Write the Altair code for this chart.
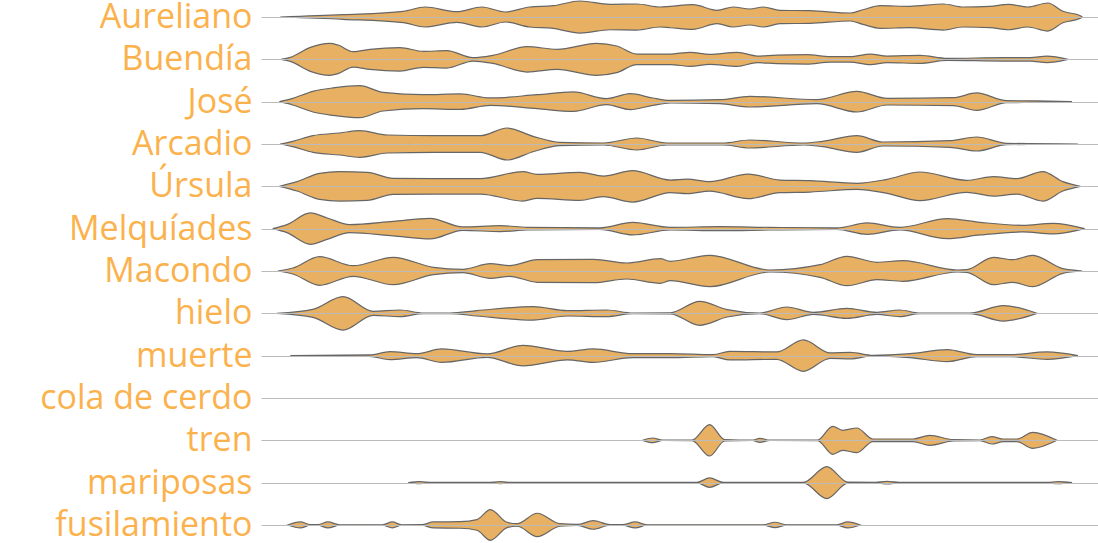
import altair as alt
import pandas as pd

# Row labels (top to bottom)
words = ["Aureliano", "Buendía", "José", "Arcadio", "Úrsula", "Melquíades",
         "Macondo", "hielo", "muerte", "cola de cerdo", "tren", "mariposas",
         "fusilamiento"]

# Position in the novel (% of text) and density (violin half-width) per word
aureliano_pos = [2.3, 9.8, 17.0, 19.6, 23.4, 26.4, 29.2, 32.1, 34.9, 38.1, 41.7, 44.9, 47.7, 48.9,
                 51.6, 54.5, 56.4, 58.4, 60.0, 62.0, 65.6, 70.4, 71.9, 74.0, 77.5, 81.5, 83.9,
                 87.1, 89.3, 91.6, 94.0, 95.8, 97.9, 98.1]
aureliano_den = [0, 2.3, 5.7, 10, 5.3, 10, 5, 10, 11.3, 16, 12.7, 13, 10, 10.7,
                 12.3, 6.7, 10, 8, 10, 6.7, 6.3, 4, 7.3, 11.3, 10.7, 13, 10,
                 10.7, 12.7, 10, 14, 5.7, 1.3, 0]

buendia_pos = [2.4, 3.5, 5.9, 8.2, 9.2, 11.0, 13.0, 16.6, 19.4, 22.2, 25.3, 27.7, 31.8, 35.4,
               40.1, 42.5, 44.9, 48.9, 51.3, 53.6, 56.9, 59.3, 61.6, 65.2, 68.0, 70.4, 72.8,
               74.8, 78.7, 82.0, 88.7, 91.9, 93.9, 96.4]
buendia_den = [0, 2, 12, 16, 14.3, 7.7, 10, 11.7, 8, 8.7, 1.7, 4, 12.7, 10,
               16, 13.3, 5.3, 5.3, 7, 5, 7, 3.3, 4.3, 4.7, 2.7, 2.7, 5.3,
               3.3, 4, 1, 1.7, 1.7, 3.3, 0]

jose_pos = [2.2, 3.8, 6.2, 8.6, 11.8, 14.6, 19.4, 23.8, 27.4, 33.0, 37.3, 41.3, 44.1, 46.8,
            48.9, 54.8, 58.4, 66.4, 71.2, 74.8, 82.7, 85.5, 89.1, 92.7, 96.9]
jose_den = [0, 3.3, 10.3, 13.7, 16, 9.3, 7, 7.7, 3.7, 7, 9.7, 3, 8, 3.7,
            1.3, 2, 5.3, 2, 10.3, 3.3, 4, 8.7, 1, 0.7, 0]

arcadio_pos = [2.3, 3.8, 6.2, 9.4, 11.8, 15.1, 20.6, 26.2, 29.4, 32.5, 35.7, 40.9, 44.9, 48.5,
               55.2, 58.4, 64.8, 67.1, 71.2, 74.3, 82.3, 85.5, 89.1, 97.6]
arcadio_den = [0, 2.7, 8.3, 11, 13.3, 9, 8.3, 8.3, 16, 7.7, 1.7, 1, 6, 1,
               1, 4, 1, 2.7, 8.3, 2, 3.3, 7, 0.7, 0]

ursula_pos = [2.2, 4.3, 7.0, 9.4, 12.7, 15.8, 20.6, 26.2, 31.3, 33.0, 38.1, 40.9, 44.4, 48.9,
              50.9, 53.6, 58.2, 62.0, 65.6, 71.2, 74.8, 78.7, 84.3, 87.5, 90.3, 93.4, 95.8, 97.9]
ursula_den = [0, 4.7, 13, 14.7, 14, 8, 7.7, 7.7, 14.7, 12, 14, 10.3, 15.7, 6.3,
              7.3, 4.7, 12.3, 6.3, 5.7, 3, 7, 14.3, 6, 9.7, 7.7, 14.7, 4.7, 0]

melquiades_pos = [1.4, 3.1, 5.9, 7.9, 10.6, 15.8, 20.2, 24.1, 28.6, 31.8, 40.5, 44.4, 48.9,
                  54.8, 60.8, 68.8, 72.4, 76.3, 82.0, 85.9, 91.0, 94.6, 98.4]
melquiades_den = [0, 4, 15.7, 10.7, 4, 7.3, 10.3, 1.7, 3, 1.3, 0.7, 6.3, 1.3,
                  2, 1.3, 0.7, 5.7, 1.3, 10, 6.3, 3.3, 5.3, 0]

macondo_pos = [2.0, 3.8, 7.0, 11.0, 15.8, 20.6, 24.1, 27.4, 29.7, 33.0, 39.7, 43.7, 47.7, 48.9,
               53.6, 60.8, 66.8, 70.0, 73.6, 76.7, 83.2, 84.3, 87.5, 89.8, 92.2, 95.8, 98.1]
macondo_den = [0, 3, 14.3, 5.3, 13.7, 3.7, 1.7, 7.3, 5.3, 11.3, 11.7, 8, 12.3, 9.7,
               15.7, 1, 6.3, 14.7, 8.7, 10.3, 1, 1.3, 13.7, 11.3, 15.7, 2.3, 0]

hielo_pos = [1.9, 6.2, 9.8, 13.4, 16.6, 19.4, 22.6, 25.8, 32.5, 36.6, 41.3, 44.4, 48.9,
             52.4, 55.7, 59.6, 62.8, 66.0, 70.0, 73.6, 76.3, 78.7, 84.7, 88.7, 92.7]
hielo_den = [0, 4, 16.7, 2, 3.3, 0.3, 0.3, 2.7, 6.7, 2.7, 3.3, 0.3, 0.5,
             12, 3.7, 0.3, 6.3, 1, 5, 1, 3.3, 0.3, 0.3, 7.7, 0]

muerte_pos = [3.5, 13.0, 15.4, 18.6, 21.6, 27.0, 31.3, 36.6, 39.7, 44.4, 48.9, 54.0, 56.0,
              61.6, 64.8, 68.0, 70.4, 73.1, 77.5, 82.0, 85.5, 89.5, 93.9, 97.6]
muerte_den = [0, 0.7, 4, 2, 6.7, 1.7, 10.3, 4.3, 6.7, 2, 2, 1, 4.3,
              3.7, 15.7, 2.7, 3.3, 0.3, 2, 6, 1, 1, 3.7, 0]

cola_pos = []
cola_den = []

tren_pos = [45.6, 46.8, 48.0, 51.5, 53.6, 55.4, 58.7, 59.6, 60.8, 66.5, 68.3, 69.5, 71.2,
            73.1, 76.3, 77.9, 79.9, 82.7, 85.9, 87.3, 88.7, 90.3, 92.2, 95.1]
tren_den = [0, 2.3, 0.2, 0.3, 15.7, 0.7, 0.2, 2, 0.2, 0.3, 14, 10, 12.3,
            1.3, 1.3, 1.3, 5, 0.7, 0.3, 3.7, 1.3, 1.3, 8, 0]

mariposas_pos = [17.6, 19.0, 20.4, 27.1, 28.6, 30.0, 52.1, 53.6, 55.2, 64.8, 67.6, 70.1,
                 73.4, 74.8, 76.3, 93.9, 95.2, 96.9]
mariposas_den = [0, 1, 0.2, 0.2, 1, 0.2, 0.3, 4.7, 0.3, 0.3, 16, 0.5,
                 0.3, 1.3, 0.3, 0.3, 1, 0]

fusilamiento_pos = [3.2, 4.7, 5.9, 6.8, 8.0, 9.4, 14.5, 15.7, 16.8, 19.2, 20.6, 23.8, 25.8,
                    27.4, 29.4, 30.6, 33.0, 35.7, 37.8, 39.7, 41.7, 43.2, 44.7, 46.1,
                    60.0, 61.4, 62.8, 68.8, 70.1, 71.6]
fusilamiento_den = [0, 3, 0.3, 0.3, 3, 0.2, 0.2, 3, 0.2, 0.3, 3, 3.3, 5.3,
                    15.3, 2.7, 1.3, 11.7, 1.3, 0.5, 4.3, 0.3, 0.3, 3, 0.2,
                    0.2, 2.7, 0.2, 0.2, 3, 0]

series = [
    (aureliano_pos, aureliano_den), (buendia_pos, buendia_den), (jose_pos, jose_den),
    (arcadio_pos, arcadio_den), (ursula_pos, ursula_den), (melquiades_pos, melquiades_den),
    (macondo_pos, macondo_den), (hielo_pos, hielo_den), (muerte_pos, muerte_den),
    (cola_pos, cola_den), (tren_pos, tren_den), (mariposas_pos, mariposas_den),
    (fusilamiento_pos, fusilamiento_den),
]

WIDTH_SCALE = 1 / 42.3  # density unit -> row units

records = []
for i, (w, (pos, den)) in enumerate(zip(words, series)):
    for p, d in zip(pos, den):
        records.append({"word": w, "row": i, "pos": p,
                        "lo": i - d * WIDTH_SCALE, "hi": i + d * WIDTH_SCALE})
df = pd.DataFrame(records)

label_expr = "[" + ",".join("'%s'" % w for w in words) + "][datum.value]"

chart = alt.Chart(df).mark_area(
    interpolate="monotone",
    color="#E8B062",
    fillOpacity=1,
    stroke="#666666",
    strokeWidth=1.2,
).encode(
    x=alt.X("pos:Q", scale=alt.Scale(domain=[0, 100], nice=False), axis=None),
    y=alt.Y("lo:Q",
            scale=alt.Scale(domain=[-0.402, 12.426], reverse=True, nice=False, zero=False),
            axis=alt.Axis(values=list(range(13)), labelExpr=label_expr, title=None,
                          ticks=False, domain=False, grid=True, gridColor="#BBBBBB",
                          gridWidth=1, labelColor="#FBB24C", labelFont="Open Sans",
                          labelFontSize=34, labelPadding=9, labelLimit=400,
                          labelOverlap=False, labelBaseline="alphabetic", labelOffset=10.5,
                          labelAlign="right", zindex=1)),
    y2="hi:Q",
    detail="word:N",
).properties(
    width=837,
    height=543,
    padding={"left": 261, "top": 0, "right": 0, "bottom": 0},
    autosize=alt.AutoSizeParams(type="none"),
).configure_view(stroke=None)

chart.save("out.html", embed_options={"renderer": "svg", "actions": False})
